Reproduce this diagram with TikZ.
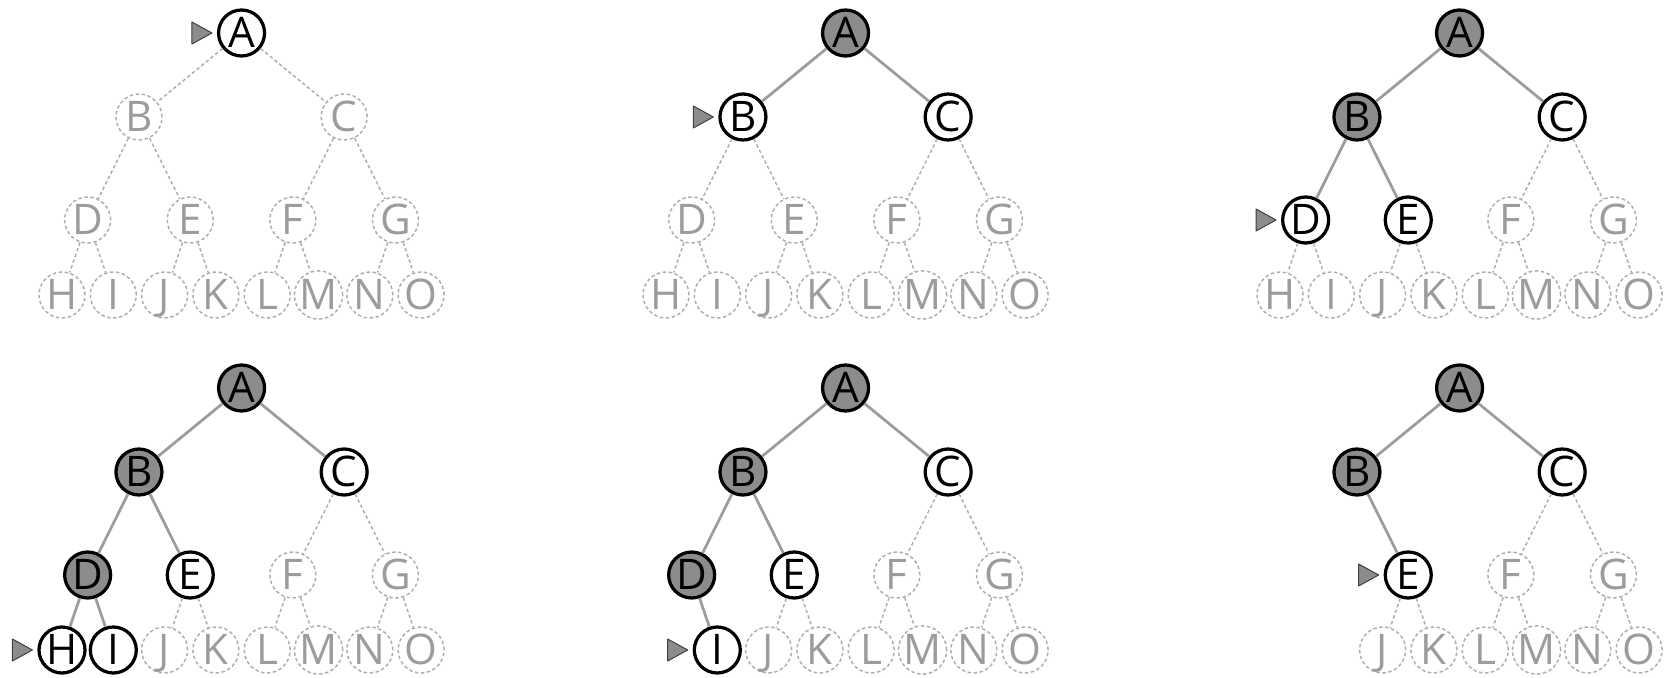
\documentclass[tikz,border=0pt]{standalone}
\usepackage{fontspec}
\newfontfamily\keyfont{Open Sans}
\definecolor{Vc}{HTML}{8C8C8C}
\definecolor{Ec}{HTML}{9C9C9C}
\definecolor{faint}{HTML}{AFAFAF}
\definecolor{Tc}{HTML}{9C9C9C}
\tikzset{
  key/.style={circle, inner sep=0pt, minimum size=0.92cm, font=\keyfont\fontsize{24}{24}\selectfont, text height=17pt, text depth=0pt},
  cur/.style={key, draw=black, line width=0.065cm, fill=white, text=black},
  done/.style={cur, fill=Vc},
  idle/.style={key, draw=faint, line width=0.03cm, dash pattern=on 0.07cm off 0.05cm, text=Tc},
  link/.style={Ec, line width=0.055cm},
  lat/.style={faint, line width=0.03cm, dash pattern=on 0.07cm off 0.05cm},
  ptr/.style={fill=Vc, draw=black!75, line width=0.02cm, line join=round},
}
% slot positions of the 15 keys, in px, relative to the panel origin
\newcommand{\slots}{%
  \foreach \n/\i/\y in {A/3.5/0,B/1.5/84,C/5.5/84,D/0.5/187,E/2.5/187,F/4.5/187,G/6.5/187,
    H/0/262,I/1/262,J/2/262,K/3/262,L/4/262,M/5/262,N/6/262,O/7/262}
    \coordinate (s\n) at ({\i*51.3},\y);}
% #1 prefix, #2 keys, #3 edges, #4 key under the pointer
\newcommand{\panel}[4]{%
  \slots
  \foreach \n/\st in {#2} \node[\st] (#1\n) at (s\n) {\n};
  \foreach \a/\b/\st in {#3} \draw[\st] (#1\a) -- (#1\b);
  \draw[ptr] ([xshift=-0.1cm]#1#4.west) -- ++(-20,-11) -- ++(0,22) -- cycle;}

\begin{document}
\begin{tikzpicture}[x=0.02cm, y=-0.02cm]
  \useasboundingbox (0,0) rectangle (1669,678);
  \begin{scope}[shift={(62,33)}]
    \panel{p1}{A/cur,B/idle,C/idle,D/idle,E/idle,F/idle,G/idle,H/idle,I/idle,J/idle,K/idle,L/idle,M/idle,N/idle,O/idle}
      {A/B/lat,A/C/lat,B/D/lat,B/E/lat,C/F/lat,C/G/lat,D/H/lat,D/I/lat,E/J/lat,E/K/lat,F/L/lat,F/M/lat,G/N/lat,G/O/lat}{A}
  \end{scope}
  \begin{scope}[shift={(666,33)}]
    \panel{p2}{A/done,B/cur,C/cur,D/idle,E/idle,F/idle,G/idle,H/idle,I/idle,J/idle,K/idle,L/idle,M/idle,N/idle,O/idle}
      {A/B/link,A/C/link,B/D/lat,B/E/lat,C/F/lat,C/G/lat,D/H/lat,D/I/lat,E/J/lat,E/K/lat,F/L/lat,F/M/lat,G/N/lat,G/O/lat}{B}
  \end{scope}
  \begin{scope}[shift={(1280,33)}]
    \panel{p3}{A/done,B/done,C/cur,D/cur,E/cur,F/idle,G/idle,H/idle,I/idle,J/idle,K/idle,L/idle,M/idle,N/idle,O/idle}
      {A/B/link,A/C/link,B/D/link,B/E/link,C/F/lat,C/G/lat,D/H/lat,D/I/lat,E/J/lat,E/K/lat,F/L/lat,F/M/lat,G/N/lat,G/O/lat}{D}
  \end{scope}
  \begin{scope}[shift={(62,388)}]
    \panel{p4}{A/done,B/done,C/cur,D/done,E/cur,F/idle,G/idle,H/cur,I/cur,J/idle,K/idle,L/idle,M/idle,N/idle,O/idle}
      {A/B/link,A/C/link,B/D/link,B/E/link,C/F/lat,C/G/lat,D/H/link,D/I/link,E/J/lat,E/K/lat,F/L/lat,F/M/lat,G/N/lat,G/O/lat}{H}
  \end{scope}
  \begin{scope}[shift={(666,388)}]
    \panel{p5}{A/done,B/done,C/cur,D/done,E/cur,F/idle,G/idle,I/cur,J/idle,K/idle,L/idle,M/idle,N/idle,O/idle}
      {A/B/link,A/C/link,B/D/link,B/E/link,C/F/lat,C/G/lat,D/I/link,E/J/lat,E/K/lat,F/L/lat,F/M/lat,G/N/lat,G/O/lat}{I}
  \end{scope}
  \begin{scope}[shift={(1280,388)}]
    \panel{p6}{A/done,B/done,C/cur,E/cur,F/idle,G/idle,J/idle,K/idle,L/idle,M/idle,N/idle,O/idle}
      {A/B/link,A/C/link,B/E/link,C/F/lat,C/G/lat,E/J/lat,E/K/lat,F/L/lat,F/M/lat,G/N/lat,G/O/lat}{E}
  \end{scope}
\end{tikzpicture}
\end{document}
